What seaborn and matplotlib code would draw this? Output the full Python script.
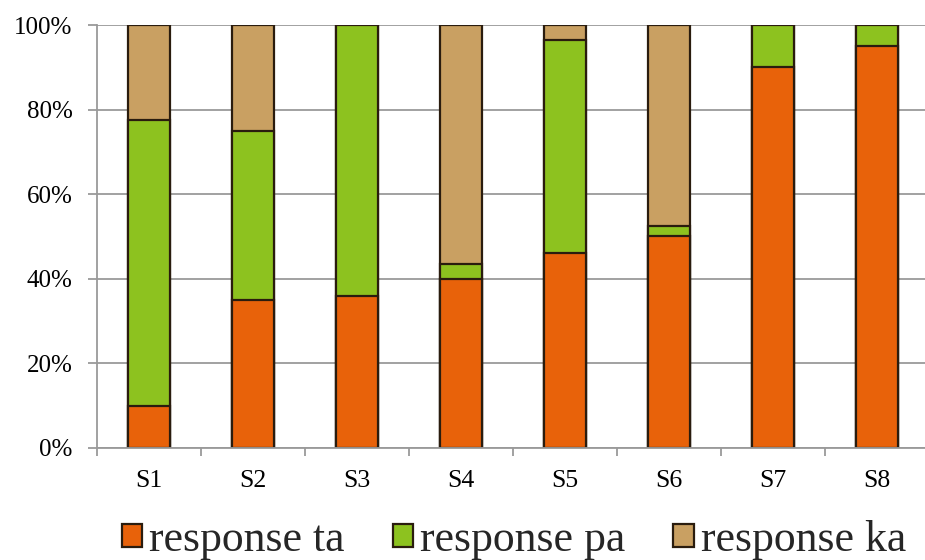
import matplotlib
matplotlib.use("Agg")
import matplotlib.pyplot as plt
from matplotlib.patches import Patch
from matplotlib.ticker import FixedLocator
import numpy as np
import pandas as pd
import seaborn as sns

# Share of each response per stimulus (percent)
subjects = ["S1", "S2", "S3", "S4", "S5", "S6", "S7", "S8"]
resp_ta = [10, 35, 36, 40, 46, 50, 90, 95]
resp_pa = [67.5, 40, 64, 3.5, 50.5, 2.5, 10, 5]
resp_ka = [22.5, 25, 0, 56.5, 3.5, 47.5, 0, 0]
series_labels = ["response ta", "response pa", "response ka"]
series_colors = ["#E8620A", "#8DC21F", "#C9A062"]
y_ticks = [0, 20, 40, 60, 80, 100]
y_tick_labels = ["0%", "20%", "40%", "60%", "80%", "100%"]

sns.set_style("white")
plt.rcParams["font.family"] = "serif"
plt.rcParams["font.serif"] = ["Liberation Serif", "DejaVu Serif"]
SERIF = ["Liberation Serif", "DejaVu Serif"]

df = pd.DataFrame({"subject": subjects, "ta": resp_ta, "pa": resp_pa, "ka": resp_ka})
cols = ["ta", "pa", "ka"]
cum = df[cols].cumsum(axis=1)

fig = plt.figure(figsize=(9.25, 5.6), dpi=100)
ax = fig.add_axes([97 / 925, 112 / 560, 832 / 925, 423 / 560])

edge = "#2a1c0e"
grid_c = "#9a9a9a"

# Stacked bars: draw cumulative totals from the top segment down
for col, color in zip(reversed(cols), reversed(series_colors)):
    sns.barplot(
        x=df["subject"], y=cum[col], order=subjects, color=color,
        saturation=1, width=0.41, edgecolor=edge, linewidth=1.6,
        ax=ax, zorder=3,
    )

ax.set_xlim(-0.5, len(subjects) - 0.5)
ax.set_ylim(0, 100)
ax.set_xlabel("")
ax.set_ylabel("")

ax.set_yticks(y_ticks)
ax.set_yticklabels(y_tick_labels, fontsize=18, family=SERIF)
ax.grid(axis="y", color=grid_c, linewidth=1.3, zorder=0)
ax.grid(axis="x", visible=False)

ax.set_xticks(range(len(subjects)))
ax.set_xticklabels(subjects, fontsize=18.5, family=SERIF)
ax.xaxis.set_minor_locator(FixedLocator(np.arange(-0.5, len(subjects), 1.0)))
ax.tick_params(axis="x", which="major", length=0, pad=16, colors="black")
ax.tick_params(axis="x", which="minor", length=6, width=1.3, color=grid_c, direction="out", bottom=True)
ax.tick_params(axis="y", which="major", length=6.5, width=1.3, color=grid_c, direction="out",
               pad=11, left=True, labelcolor="black")

for side in ["top", "right"]:
    ax.spines[side].set_visible(False)
for side in ["left", "bottom"]:
    ax.spines[side].set_color(grid_c)
    ax.spines[side].set_linewidth(1.3)
    ax.spines[side].set_zorder(4)

handles = [Patch(facecolor=c, edgecolor=edge, linewidth=1.6) for c in series_colors]
fig.legend(
    handles, series_labels, loc="center", ncol=3,
    bbox_to_anchor=(514 / 925, 1 - 540 / 560), frameon=False,
    prop={"family": SERIF, "size": 31.5},
    handlelength=0.46, handleheight=0.46, handletextpad=0.16,
    columnspacing=1.1, borderpad=0, borderaxespad=0,
)

fig.savefig("out.png", dpi=100)
